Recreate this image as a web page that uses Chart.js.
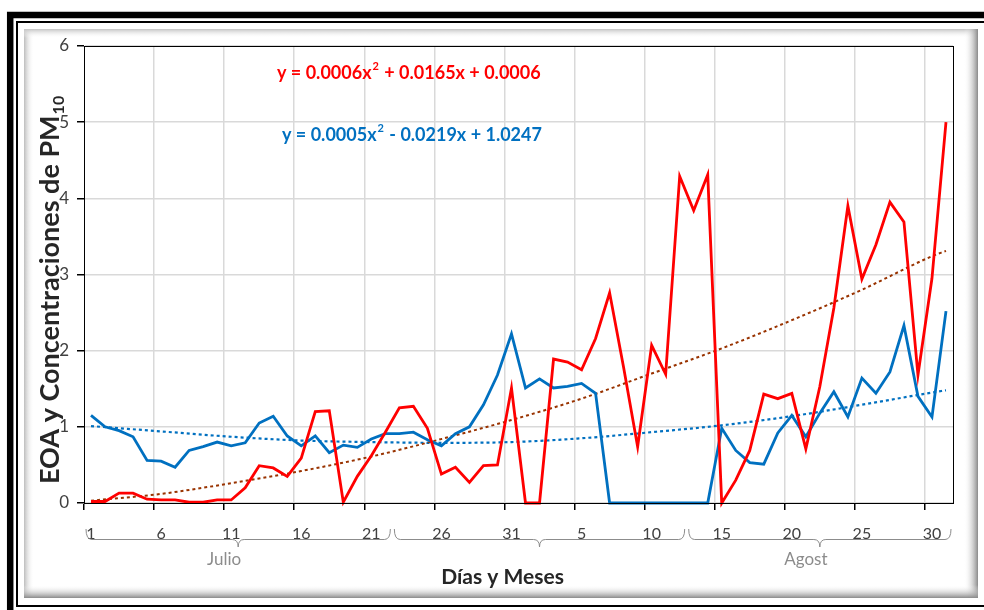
<!DOCTYPE html>
<html>
<head>
<meta charset="utf-8">
<script src="https://cdn.jsdelivr.net/npm/chart.js@4"></script>
<style>
  html, body { margin: 0; padding: 0; background: #fff; }
  canvas { display: block; }
</style>
</head>
<body>
<canvas id="c" width="984" height="610"></canvas>
<script>
// dias: 1-31 julio, 1-31 agosto
const days = ['1','2','3','4','5','6','7','8','9','10','11','12','13','14','15','16','17','18','19','20','21','22','23','24','25','26','27','28','29','30','31',
              '1','2','3','4','5','6','7','8','9','10','11','12','13','14','15','16','17','18','19','20','21','22','23','24','25','26','27','28','29','30','31'];

const eoa = [0.02,0.02,0.13,0.13,0.05,0.04,0.04,0.01,0.01,0.04,0.04,0.20,0.49,0.46,0.35,0.59,1.20,1.21,0.01,0.35,0.62,0.93,1.25,1.27,0.98,0.38,0.47,0.27,0.49,0.50,1.51,
             0,0,1.89,1.85,1.75,2.16,2.76,1.78,0.74,2.07,1.69,4.29,3.84,4.31,0,0.30,0.69,1.43,1.37,1.44,0.71,1.53,2.56,3.90,2.94,3.39,3.95,3.69,1.68,2.95,5.00];

const pm10 = [1.15,1.00,0.95,0.87,0.56,0.55,0.47,0.69,0.74,0.80,0.75,0.79,1.05,1.14,0.88,0.75,0.88,0.66,0.76,0.73,0.84,0.91,0.91,0.93,0.83,0.75,0.91,1.00,1.29,1.68,2.22,
              1.51,1.63,1.51,1.53,1.57,1.44,0,0,0,0,0,0,0,0,0.98,0.69,0.53,0.51,0.92,1.15,0.87,1.18,1.46,1.13,1.64,1.44,1.72,2.33,1.40,1.13,2.52];

// lineas de tendencia
const trendIdx = [0,5,10,15,20,25,30,35,40,45,50,55,60,61];
const trendEoa = [0.03,0.12,0.26,0.42,0.61,0.84,1.09,1.37,1.70,2.03,2.40,2.80,3.24,3.31];
const trendPm = [1.01,0.94,0.87,0.82,0.80,0.79,0.80,0.85,0.93,1.02,1.14,1.29,1.45,1.48];

const yTicks = [0,1,2,3,4,5,6];

const groups = [
  { label: 'Julio', from: 0, to: 21 },
  { label: '', from: 22, to: 42 },
  { label: 'Agost', from: 43, to: 61 }
];

const eqEoa = ['y = 0.0006x', '2', ' + 0.0165x + 0.0006'];
const eqPm = ['y = 0.0005x', '2', ' - 0.0219x + 1.0247'];

function sparse(vals) {
  const a = days.map(() => null);
  trendIdx.forEach((k, j) => { a[k] = vals[j]; });
  return a;
}

const framePlugin = {
  id: 'frame',
  beforeDraw(chart) {
    const ctx = chart.ctx;
    ctx.save();
    ctx.fillStyle = '#fff';
    ctx.fillRect(0, 0, 984, 610);
    // marco negro doble
    ctx.strokeStyle = '#000';
    ctx.lineWidth = 6.5;
    ctx.strokeRect(10.2, 15, 1000, 620);
    ctx.lineWidth = 2;
    ctx.strokeRect(17, 22, 1000, 584);
    // panel con sombra
    ctx.fillStyle = '#fff';
    ctx.fillRect(24, 29, 954, 569);
    let g = ctx.createLinearGradient(24, 0, 34, 0);
    g.addColorStop(0, '#bdbdbd'); g.addColorStop(1, 'rgba(255,255,255,0)');
    ctx.fillStyle = g; ctx.fillRect(24, 29, 10, 569);
    g = ctx.createLinearGradient(0, 29, 0, 38);
    g.addColorStop(0, '#c4c4c4'); g.addColorStop(1, 'rgba(255,255,255,0)');
    ctx.fillStyle = g; ctx.fillRect(24, 29, 954, 9);
    g = ctx.createLinearGradient(964, 0, 978, 0);
    g.addColorStop(0, 'rgba(255,255,255,0)'); g.addColorStop(1, '#8a8a8a');
    ctx.fillStyle = g; ctx.fillRect(964, 29, 14, 569);
    g = ctx.createLinearGradient(0, 585, 0, 598);
    g.addColorStop(0, 'rgba(255,255,255,0)'); g.addColorStop(1, '#8a8a8a');
    ctx.fillStyle = g; ctx.fillRect(24, 585, 954, 13);
    ctx.restore();
  }
};

const textPlugin = {
  id: 'texts',
  afterDraw(chart) {
    const ctx = chart.ctx;
    const area = chart.chartArea;
    const xs = chart.scales.x;
    ctx.save();

    // caja del area de trazado
    ctx.strokeStyle = '#000';
    ctx.lineWidth = 1;
    ctx.strokeRect(Math.round(area.left) + 0.5, Math.round(area.top) + 0.5,
                   Math.round(area.right - area.left), Math.round(area.bottom - area.top));

    // llaves de agrupacion
    const step = xs.getPixelForValue(1) - xs.getPixelForValue(0);
    ctx.strokeStyle = '#8c8c8c';
    ctx.lineWidth = 1;
    const yTop = 529, yMid = 539.5, yTip = 547, r = 6;
    groups.forEach(gr => {
      const x0 = xs.getPixelForValue(gr.from) - step / 2 + 2;
      const x1 = xs.getPixelForValue(gr.to) + step / 2 - 2;
      const xc = (x0 + x1) / 2;
      ctx.beginPath();
      ctx.moveTo(x0, yTop);
      ctx.quadraticCurveTo(x0, yMid, x0 + r, yMid);
      ctx.lineTo(xc - r, yMid);
      ctx.quadraticCurveTo(xc, yMid, xc, yTip);
      ctx.quadraticCurveTo(xc, yMid, xc + r, yMid);
      ctx.lineTo(x1 - r, yMid);
      ctx.quadraticCurveTo(x1, yMid, x1, yTop);
      ctx.stroke();
      if (gr.label) {
        ctx.fillStyle = '#8c8c8c';
        ctx.font = '17px Lato';
        ctx.textAlign = 'center';
        ctx.textBaseline = 'middle';
        ctx.fillText(gr.label, xc - 14, 560);
      }
    });

    // titulo eje x
    ctx.fillStyle = '#262626';
    ctx.font = 'bold 21px Lato';
    ctx.textAlign = 'center';
    ctx.textBaseline = 'middle';
    ctx.fillText('Días y Meses', (area.left + area.right) / 2 - 16, 577);

    // titulo eje y con subindice
    ctx.save();
    ctx.translate(59, 484);
    ctx.rotate(-Math.PI / 2);
    ctx.textAlign = 'left';
    ctx.textBaseline = 'alphabetic';
    ctx.font = 'bold 27px Lato';
    const main = 'EOA y Concentraciones de PM';
    ctx.fillText(main, 0, 0);
    const w = ctx.measureText(main).width;
    ctx.font = 'bold 16px Lato';
    ctx.fillText('10', w + 1, 5);
    ctx.restore();

    // ecuaciones
    function eq(parts, x, y, color) {
      ctx.fillStyle = color;
      ctx.textAlign = 'left';
      ctx.textBaseline = 'alphabetic';
      ctx.font = 'bold 18px Lato';
      ctx.fillText(parts[0], x, y);
      x += ctx.measureText(parts[0]).width;
      ctx.font = 'bold 11px Lato';
      ctx.fillText(parts[1], x + 1, y - 9);
      x += ctx.measureText(parts[1]).width + 2;
      ctx.font = 'bold 18px Lato';
      ctx.fillText(parts[2], x, y);
    }
    eq(eqEoa, 277, 79, '#ff0000');
    eq(eqPm, 282, 141, '#0070c0');

    ctx.restore();
  }
};

new Chart(document.getElementById('c'), {
  type: 'line',
  data: {
    labels: days,
    datasets: [
      { data: eoa, borderColor: '#ff0000', borderWidth: 2.8, pointRadius: 0, tension: 0, clip: 6 },
      { data: pm10, borderColor: '#0070c0', borderWidth: 2.8, pointRadius: 0, tension: 0, clip: 6 },
      { data: sparse(trendEoa), borderColor: '#993300', borderWidth: 2, borderDash: [3, 3], pointRadius: 0,
        spanGaps: true, cubicInterpolationMode: 'monotone' },
      { data: sparse(trendPm), borderColor: '#0070c0', borderWidth: 2.2, borderDash: [3, 3], pointRadius: 0,
        spanGaps: true, cubicInterpolationMode: 'monotone' }
    ]
  },
  options: {
    responsive: false,
    animation: false,
    events: [],
    layout: { padding: { left: 0, top: 46, right: 31, bottom: 0 } },
    plugins: { legend: { display: false }, tooltip: { enabled: false } },
    scales: {
      x: {
        offset: true,
        grid: {
          offset: true,
          color: c => (c.index % 5 === 0 && c.index > 0) ? '#d9d9d9' : 'transparent',
          tickColor: c => (c.index % 5 === 0) ? '#000' : 'transparent',
          lineWidth: 1.5,
          tickLength: 7
        },
        border: { color: '#000', width: 1 },
        ticks: {
          autoSkip: false,
          maxRotation: 0,
          padding: 14,
          color: '#404040',
          font: { family: 'Lato', size: 16 },
          callback: (v, i) => (i % 5 === 0 ? days[i] : '')
        },
        afterFit: s => { s.height = 107; }
      },
      y: {
        min: 0,
        max: 6,
        afterBuildTicks: s => { s.ticks = yTicks.map(v => ({ value: v })); },
        grid: { color: '#d9d9d9', lineWidth: 1.5, tickColor: '#000', tickLength: 7 },
        border: { color: '#000', width: 1 },
        ticks: { padding: 8, color: '#404040', font: { family: 'Lato', size: 17 } },
        afterFit: s => { s.width = 84; }
      }
    }
  },
  plugins: [framePlugin, textPlugin]
});
</script>
</body>
</html>
